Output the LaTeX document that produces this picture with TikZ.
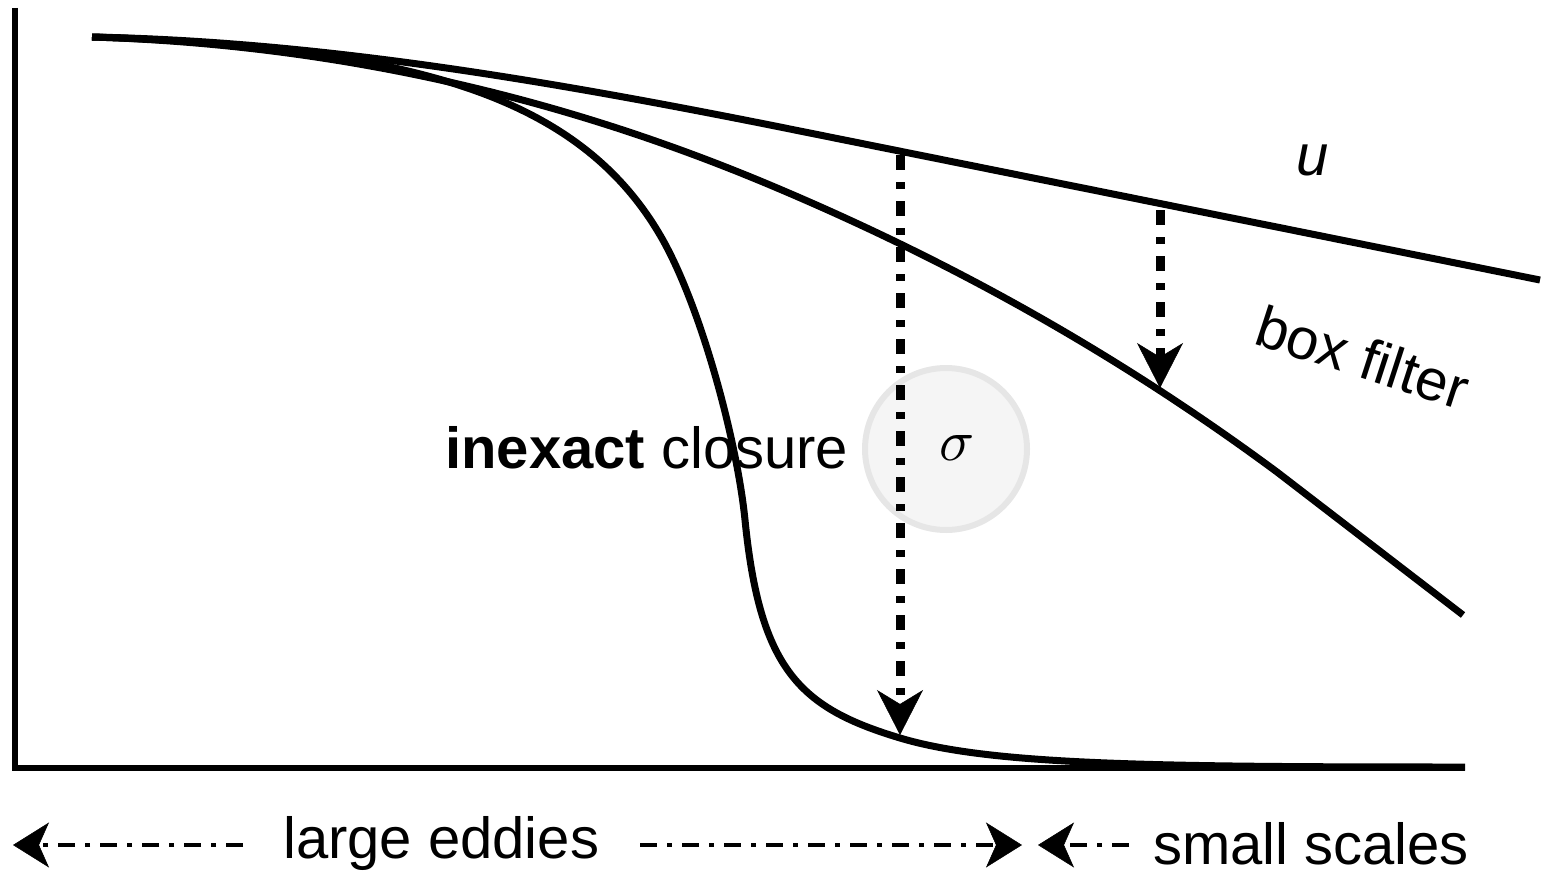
\documentclass[tikz,border=0pt]{standalone}
\usepackage{fontspec}
\setmainfont{Liberation Sans}
\usetikzlibrary{arrows.meta}
\definecolor{circfill}{HTML}{F5F5F5}
\definecolor{circline}{HTML}{E6E6E6}
\begin{document}
\begin{tikzpicture}[x=1pt,y=-1pt,
  curve/.style={line width=7pt},
  bigfont/.style={font=\fontsize{58}{70}\selectfont, inner sep=0pt},
  vdash/.style={line width=9pt, dash pattern=on 15pt off 12pt on 7pt off 12pt,
     -{Stealth[length=45pt,width=46pt,inset=14pt,line width=0.5pt]}},
  hdash/.style={line width=4.5pt, dash pattern=on 17pt off 10pt on 5pt off 10pt,
     -{Stealth[length=36pt,width=45pt,inset=10pt,line width=0.5pt]}},
  sigmacirc/.style={circle, minimum size=162pt, inner sep=0pt, fill=circfill, draw=circline, line width=6pt}
]
\useasboundingbox (0,0) rectangle (1542,875);

% sigma circle
\node[sigmacirc] (sig) at (946,449) {};
\node[scale=5.8, inner sep=0pt] (sigtxt) at (957,448) {$\sigma$};

% labels
\node[bigfont, anchor=base west] (closure) at (445,468) {\textbf{inexact} closure};
\node[bigfont, anchor=base west] (large) at (283,858) {large eddies};
\node[bigfont, anchor=base west] (small) at (1153,864) {small scales};
\node[bigfont, anchor=base] (u) at (1313,175) {\itshape u};
\node[bigfont, anchor=base west, rotate=-18] (box) at (1252,343) {box filter};

% axes
\draw[line width=6pt, line join=miter] (15,8) -- (15,768) -- (1465,768);

% u curve
\draw[curve] (92,37) .. controls (318,41.5) and (544,80) .. (770,125) -- (1540,280);

% box filter curve
\draw[curve] (92,37) .. controls (318,44) and (544,90) .. (770,185)
   .. controls (939,256) and (1108,347) .. (1277,472) -- (1463,615);

% inexact closure curve
\draw[curve] (92,37) .. controls (400,47) and (575,90) .. (660,235)
   .. controls (700,303) and (737,440) .. (745,520)
   .. controls (760,670) and (800,708) .. (900,738)
   .. controls (990,765) and (1150,767) .. (1465,767);

% vertical dashed arrows
\coordinate (a1s) at (900,155);
\coordinate (a1e) at (900,735);
\coordinate (a2s) at (1160,210);
\coordinate (a2e) at (1160,388);
\draw[vdash] (a1s) -- (a1e);
\draw[vdash] (a2s) -- (a2e);

% bottom arrows
\coordinate (b1s) at (243,845);
\coordinate (b1e) at (13,845);
\coordinate (b2s) at (640,845);
\coordinate (b2e) at (1022,845);
\coordinate (b3s) at (1129,845);
\coordinate (b3e) at (1038,845);
\draw[hdash] (b1s) -- (b1e);
\draw[hdash] (b2s) -- (b2e);
\draw[hdash] (b3s) -- (b3e);
\end{tikzpicture}
\end{document}
